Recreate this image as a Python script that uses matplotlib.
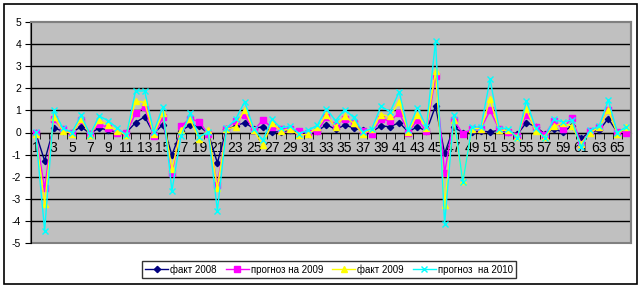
import numpy as np
import matplotlib
matplotlib.use('Agg')
import matplotlib.pyplot as plt
from matplotlib.patches import Rectangle

plt.rcParams['font.family'] = ['Liberation Sans', 'DejaVu Sans']

# номера позиций 1..66
categories = list(range(1, 67))

fact_2008 = [0, -1.28, 0.21, 0.06, 0, 0.26, -0.05, 0.21, 0.1, 0.03,
	0, 0.45, 0.71, -0.05, 0.36, -1.02, 0.08, 0.33, 0.29, -0.05,
	-1.37, 0.14, 0.29, 0.45, 0.18, 0.26, 0.03, 0.03, 0.1, 0.03,
	-0.05, 0.06, 0.36, 0.14, 0.33, 0.21, 0.1, 0.03, 0.3, 0.26,
	0.45, 0.03, 0.26, 0.06, 1.2, -0.95, 0.23, 0, 0.03, 0.06,
	0.03, 0.1, 0.03, -0.08, 0.45, 0.26, -0.05, 0.14, 0.03, 0.29,
	-0.27, 0.03, 0.1, 0.63, 0, 0.03]

prognoz_2009 = [0, -2.53, 0.6, 0.14, -0.02, 0.56, -0.05, 0.38, 0.21, 0,
	0, 0.86, 1.16, -0.17, 0.68, -1.85, 0.29, 0.63, 0.48, -0.08,
	-2.38, 0.18, 0.53, 0.78, 0.1, 0.56, 0.23, 0.18, 0.14, 0.08,
	0, 0.06, 0.68, 0.33, 0.63, 0.44, 0.08, -0.05, 0.63, 0.51,
	0.9, 0, 0.56, 0.06, 2.55, -1.82, 0.56, -0.05, 0.15, 0.18,
	1.0, 0.14, 0.03, -0.17, 0.81, 0.26, -0.12, 0.51, 0.18, 0.66,
	-0.5, 0.06, 0.26, 1.04, 0.03, 0]

fact_2009 = [-0.05, -3.24, 0.72, 0.08, -0.05, 0.6, -0.1, 0.56, 0.33, 0.06,
	-0.12, 1.43, 1.36, -0.08, 0.86, -1.67, 0.1, 0.6, -0.3, 0.1,
	-2.53, 0.14, 0.26, 1.04, 0.1, -0.57, 0.41, 0.08, 0.15, -0.12,
	-0.08, 0.23, 0.78, 0.26, 0.74, 0.41, -0.05, 0.14, 0.81, 0.74,
	1.39, 0.03, 0.81, 0.21, 2.77, -3.28, 0.56, -2.2, 0.18, 0.18,
	1.5, 0.1, 0.1, -0.2, 1.08, 0.06, -0.2, 0.29, 0.41, 0.29,
	-0.5, 0, 0.23, 1.04, -0.08, 0.26]

prognoz_2010 = [0.03, -4.44, 1.0, 0.2, 0, 0.78, -0.1, 0.75, 0.53, 0.2,
	-0.12, 1.88, 1.88, 0.03, 1.16, -2.64, -0.15, 0.86, -0.2, 0.03,
	-3.54, 0.2, 0.59, 1.39, 0.18, -0.35, 0.6, 0.2, 0.29, -0.05,
	0.1, 0.33, 1.08, 0.53, 1.04, 0.68, 0.03, 0.18, 1.19, 0.93,
	1.84, 0.1, 1.13, 0.26, 4.14, -4.14, 0.78, -2.25, 0.23, 0.26,
	2.41, 0.18, 0.18, -0.27, 1.43, 0.2, -0.23, 0.59, 0.48, 0.56,
	-0.65, 0.1, 0.29, 1.46, 0, 0.26]

series_names = ['факт 2008', 'прогноз на 2009', 'факт 2009', 'прогноз  на 2010']

W, H = 643, 289
fig = plt.figure(figsize=(W / 100, H / 100), dpi=100)
fig.patch.set_facecolor('white')

# рамка всей диаграммы
fig.patches.append(Rectangle((4 / W, 5 / H), 633 / W, 280 / H, transform=fig.transFigure,
	fill=False, edgecolor='black', linewidth=1.2))

ax = fig.add_axes([31 / W, 46 / H, 600 / W, 221 / H])
ax.set_facecolor('#C0C0C0')

for y in range(-4, 5):
	ax.axhline(y, color='black', linewidth=1, zorder=1)

x = np.array(categories)
ax.plot(x, fact_2008, color='#000080', marker='D', markersize=3.2, linewidth=1, label=series_names[0], zorder=3)
ax.plot(x, prognoz_2009, color='#FF00FF', marker='s', markersize=4.2, linewidth=1, label=series_names[1], zorder=3)
ax.plot(x, fact_2009, color='#FFFF00', marker='^', markersize=4.8, linewidth=1, label=series_names[2], zorder=3)
ax.plot(x, prognoz_2010, color='#00FFFF', marker='x', markersize=4, markeredgewidth=1, linewidth=1, label=series_names[3], zorder=3)

ax.set_xlim(0.5, 66.5)
ax.set_ylim(-5, 5)
ax.set_yticks(range(-5, 6))
ax.set_yticklabels([str(v) for v in range(-5, 6)], fontsize=7.5)

ax.set_xticks(categories[::2])
ax.set_xticklabels([str(c) for c in categories[::2]], fontsize=7.5)
ax.set_xticks(np.arange(0.5, 67, 1), minor=True)
ax.tick_params(axis='x', which='major', length=0, pad=6)
ax.tick_params(axis='x', which='minor', length=4, direction='out', color='black')
ax.tick_params(axis='y', length=4, direction='out', color='black', pad=3)

ax.spines['bottom'].set_position(('data', 0))
ax.spines['bottom'].set_color('black')
ax.spines['bottom'].set_zorder(2)
ax.spines['left'].set_color('black')
ax.spines['top'].set_color('#808080')
ax.spines['right'].set_color('#808080')
ax.spines['top'].set_linewidth(1.5)
ax.spines['right'].set_linewidth(1.5)
# нижняя граница области построения
ax.add_patch(Rectangle((0, 0), 1, 1, transform=ax.transAxes, fill=False,
	edgecolor='#808080', linewidth=1.5, zorder=0.5, clip_on=False))

leg = fig.legend(loc='center', bbox_to_anchor=(329 / W, 19.5 / H), ncol=4, fontsize=7,
	frameon=True, fancybox=False, edgecolor='black', handlelength=2.4,
	handletextpad=0.2, columnspacing=0.9, borderpad=0.35, borderaxespad=0)
leg.get_frame().set_linewidth(1)

fig.savefig('out.png', dpi=100)
